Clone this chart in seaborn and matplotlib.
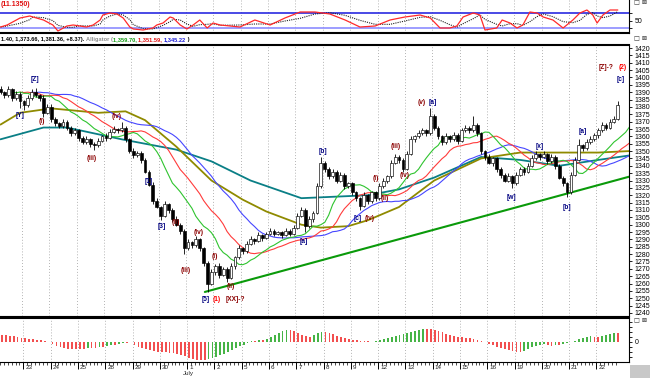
import numpy as np
import pandas as pd
import matplotlib
matplotlib.use("Agg")
import matplotlib.pyplot as plt
import matplotlib.transforms as mtransforms
from matplotlib.patches import Rectangle
import seaborn as sns

sns.set_theme(style="white")
plt.rcParams['font.family'] = ['Liberation Sans', 'DejaVu Sans']

# ---------------- data ----------------
FIRST_OPEN = 1392
CLOSE = [
    1390, 1388, 1392, 1386, 1389, 1384, 1381, 1386, 1390, 1388,
    1386, 1376, 1380, 1372, 1369, 1367, 1370, 1366, 1362, 1364,
    1359, 1356, 1358, 1355, 1354, 1357, 1360, 1359, 1363, 1365,
    1364, 1366, 1358, 1350, 1347, 1349, 1344, 1336, 1327, 1316,
    1312, 1306, 1314, 1310, 1304, 1300, 1296, 1284, 1288, 1286,
    1290, 1284, 1274, 1260, 1268, 1272, 1266, 1270, 1264, 1272,
    1278, 1284, 1282, 1287, 1290, 1289, 1293, 1291, 1294, 1296,
    1294, 1295, 1293, 1296, 1294, 1298, 1306, 1310, 1299, 1304,
    1308, 1326, 1342, 1338, 1333, 1336, 1330, 1334, 1326, 1328,
    1322, 1318, 1313, 1320, 1316, 1322, 1318, 1326, 1330, 1333,
    1342, 1346, 1344, 1338, 1348, 1358, 1360, 1362, 1364, 1362,
    1374, 1366, 1360, 1356, 1360, 1358, 1361, 1357, 1364, 1366,
    1364, 1368, 1362, 1350, 1346, 1342, 1345, 1338, 1334, 1330,
    1333, 1328, 1334, 1338, 1336, 1340, 1345, 1348, 1346, 1348,
    1343, 1346, 1340, 1332, 1328, 1322, 1334, 1344, 1354, 1352,
    1356, 1358, 1361, 1364, 1368, 1366, 1370, 1372, 1381,
]
UP_WICK = [
    2, 1, 2, 1, 2, 1, 1, 2, 2, 3,
    1, 2, 2, 2, 1, 1, 2, 1, 1, 2,
    1, 1, 2, 1, 1, 2, 1, 2, 2, 2,
    1, 4, 1, 1, 2, 1, 1, 1, 1, 2,
    2, 1, 2, 1, 1, 2, 1, 1, 2, 1,
    2, 1, 1, 1, 2, 1, 2, 1, 1, 2,
    1, 2, 1, 2, 2, 1, 2, 1, 1, 2,
    1, 1, 1, 2, 1, 2, 2, 2, 1, 2,
    1, 2, 4, 1, 1, 2, 1, 2, 1, 1,
    1, 1, 1, 2, 1, 1, 1, 2, 2, 1,
    2, 2, 1, 1, 2, 2, 1, 2, 2, 1,
    5, 1, 1, 1, 2, 1, 2, 1, 2, 2,
    1, 6, 1, 1, 1, 2, 1, 1, 1, 1,
    2, 1, 2, 1, 1, 2, 2, 2, 1, 2,
    1, 2, 1, 1, 1, 1, 2, 2, 4, 1,
    2, 2, 1, 2, 2, 1, 2, 2, 3,
]
DN_WICK = [
    1, 2, 1, 2, 1, 5, 3, 1, 1, 1,
    2, 3, 1, 2, 2, 1, 1, 2, 2, 1,
    2, 1, 1, 2, 3, 1, 1, 2, 1, 1,
    2, 1, 2, 1, 2, 1, 2, 1, 1, 2,
    1, 3, 1, 2, 2, 1, 2, 4, 1, 2,
    1, 2, 2, 6, 1, 2, 2, 1, 3, 1,
    2, 1, 2, 1, 1, 2, 1, 2, 1, 1,
    2, 1, 2, 1, 2, 1, 1, 1, 4, 1,
    2, 1, 1, 2, 2, 1, 2, 1, 2, 1,
    2, 2, 3, 1, 2, 1, 2, 1, 1, 2,
    1, 1, 2, 2, 1, 1, 2, 1, 1, 2,
    1, 2, 2, 2, 1, 2, 1, 2, 1, 1,
    2, 1, 2, 2, 2, 1, 2, 2, 2, 1,
    1, 3, 1, 1, 2, 1, 1, 1, 2, 1,
    2, 1, 2, 1, 2, 3, 1, 1, 1, 2,
    1, 1, 1, 2, 1, 2, 1, 1, 1,
]
MACD_HIST = [
    7, 7, 6, 6, 5, 4, 4, 3, 3, 2,
    2, 1, 0, -2, -4, -5, -6, -7, -7, -7,
    -7, -7, -6, -6, -6, -5, -5, -4, -3, -3,
    -2, -1, -1, 0, -3, -5, -6, -7, -8, -9,
    -10, -10, -10, -11, -11, -12, -13, -14, -16, -17,
    -18, -18, -18, -17, -16, -15, -13, -12, -10, -8,
    -6, -4, -3, -1, 1, 1, 2, 2, 3, 5,
    7, 9, 11, 12, 12, 11, 9, 7, 6, 5,
    7, 9, 10, 10, 9, 8, 6, 5, 4, 3,
    2, 2, 1, 1, 1, 0, 1, 2, 3, 4,
    5, 6, 7, 8, 9, 10, 11, 12, 13, 13,
    13, 12, 11, 10, 8, 7, 6, 5, 5, 4,
    4, 3, 2, 1, 0, -2, -3, -5, -6, -7,
    -8, -9, -10, -10, -9, -7, -5, -4, -3, -2,
    -3, -4, -3, -3, -2, -1, 0, 1, 3, 4,
    5, 6, 5, 5, 6, 7, 8, 9, 9,
]
STOCH_X = [0, 1.7, 5, 7.5, 8.3, 11, 13.4, 14.7, 17, 18.6, 20.3, 22, 23.7, 25.5, 26.2,
           28, 29.8, 31.4, 33.1, 34, 36.5, 39, 40, 41.6, 43.4, 44.2, 46, 47.7, 49.3, 51,
           52.9, 54.4, 56.2, 61.3, 65.1, 69, 72.8, 76.7, 80.5, 84.3, 88.2, 92, 95.9, 99.7,
           103.5, 107.4, 110, 112.5, 115, 116.8, 118.4, 121, 122.7, 124, 127, 128.4, 130.4,
           132.2, 133.7, 135.5, 137.3, 138.9, 141.4, 144, 146.5, 148.3, 150.1, 151.6, 152.7,
           154.2, 156, 158]
STOCH_K = [24, 32, 60, 68, 64, 52, 32, 8, 28, 32, 28, 24, 32, 52, 72,
           80, 76, 60, 24, 16, 12, 20, 32, 40, 64, 60, 32, 16, 32, 52,
           20, 40, 32, 24, 52, 32, 60, 84, 84, 76, 52, 24, 28, 52,
           64, 72, 60, 20, 20, 28, 64, 80, 72, 12, 20, 52, 40,
           20, 32, 84, 80, 64, 52, 20, 52, 80, 92, 72, 40,
           72, 92, 92]
OLIVE_X = [0, 5, 13, 25, 32, 37, 45, 54, 62, 68, 77, 82, 89, 94, 102, 111, 123, 133, 143, 153, 160.9]
OLIVE_Y = [1368, 1376, 1379, 1376, 1377, 1371, 1353, 1330, 1317, 1309, 1300, 1298, 1299, 1303,
           1312, 1330, 1345, 1349, 1349, 1349, 1350]
TEAL_X = [0, 11, 17, 31, 45, 54, 64, 77, 94, 102, 111, 123, 133, 143, 153, 160.9]
TEAL_Y = [1358, 1366, 1366, 1358, 1351, 1343, 1330, 1318, 1320, 1324, 1332, 1346, 1344, 1340, 1344, 1347]
TREND_X = [52.3, 160.9]
TREND_Y = [1254.3, 1332.6]
DAY_LABELS = ["23", "24", "25", "28", "29", "30", "1", "2", "5", "6", "7", "8",
              "9", "12", "13", "14", "15", "16", "19", "20", "21", "22"]
PRICE_TICKS = list(range(1240, 1421, 5))
WAVES = [
    ("[Y]", 5.0, 1374.5, "navy"), ("[Z]", 8.8, 1398.3, "navy"),
    ("(i)", 10.6, 1369.8, "darkred"), ("(iii)", 23.4, 1345.3, "darkred"),
    ("(iv)", 29.8, 1373.2, "darkred"), ("[1]", 37.8, 1329.0, "navy"),
    ("[3]", 41.3, 1299.1, "navy"), ("(ii)", 44.9, 1301.8, "darkred"),
    ("(iv)", 50.8, 1295.0, "darkred"), ("(iii)", 47.5, 1269.2, "darkred"),
    ("(i)", 54.9, 1278.7, "darkred"), ("(ii)", 59.0, 1258.3, "darkred"),
    ("[5]", 52.6, 1249.5, "navy"), ("(1)", 55.4, 1249.5, "red"),
    ("[XX]-?", 60.2, 1249.5, "darkred"), ("[a]", 77.7, 1288.9, "navy"),
    ("[b]", 82.5, 1350.0, "navy"), ("[c]", 91.5, 1304.5, "navy"),
    ("(iv)", 94.6, 1304.5, "darkred"), ("(i)", 96.1, 1331.7, "darkred"),
    ("(ii)", 98.4, 1318.1, "darkred"), ("(iii)", 101.2, 1353.4, "darkred"),
    ("(iv)", 103.5, 1333.7, "darkred"), ("(v)", 107.9, 1382.7, "darkred"),
    ("[a]", 110.7, 1383.3, "navy"), ("[w]", 130.9, 1318.8, "navy"),
    ("[x]", 138.1, 1352.8, "navy"), ("[b]", 145.0, 1312.0, "navy"),
    ("[a]", 149.1, 1363.0, "navy"), ("[Z]-?", 155.0, 1407.1, "darkred"),
    ("(2)", 159.3, 1407.1, "red"), ("[c]", 158.7, 1398.3, "navy"),
]

# ---------------- derived series ----------------
n = len(CLOSE)
bars = np.arange(n)
close = np.array(CLOSE, float)
open_ = np.concatenate([[FIRST_OPEN], close[:-1]])
high = np.maximum(open_, close) + np.array(UP_WICK)
low = np.minimum(open_, close) - np.array(DN_WICK)
s = pd.Series(close)
def smma(p):
    return s.ewm(alpha=1.0 / p, adjust=False).mean().to_numpy()
jaw, teeth, lips = smma(13), smma(8), smma(5)
stoch_d = pd.Series(STOCH_K).rolling(3, min_periods=1).mean().to_numpy()

# ---------------- layout ----------------
W, H = 650, 378
fig = plt.figure(figsize=(6.5, 3.78), dpi=100)
fig.patch.set_facecolor("white")

def box(x0, y0, x1, y1):
    return [x0 / W, 1 - y1 / H, (x1 - x0) / W, (y1 - y0) / H]

RIGHT = 629
ax_s = fig.add_axes(box(0, 0, RIGHT, 33))
ax_m = fig.add_axes(box(0, 45, RIGHT, 316))
ax_h = fig.add_axes(box(0, 318, RIGHT, 362))
XL = (-0.13, (RIGHT - 0.5) / 3.907)
day_ticks = [5.5 + 7 * k for k in range(len(DAY_LABELS))]

for ax in (ax_s, ax_m, ax_h):
    ax.set_facecolor("white")
    ax.set_xlim(*XL)
    for t in day_ticks:
        ax.axvline(t, color="#9a9a9a", lw=0.6, ls=(0, (1, 2.5)), zorder=0)
    ax.spines["left"].set_visible(False)
    for sp in ("top", "right", "bottom"):
        ax.spines[sp].set_color("black")
        ax.spines[sp].set_linewidth(0.8)
    ax.yaxis.tick_right()
    ax.tick_params(axis="y", which="both", right=True, left=False, direction="out",
                   length=2.5, width=0.6, pad=1.5, labelsize=5, colors="black")

# ---- stochastic panel ----
ax_s.set_ylim(0, 132)
ax_s.axhline(80, color="#2a2ae0", lw=1.2, zorder=1)
ax_s.axhline(20, color="#8c8cff", lw=1.2, zorder=1)
sns.lineplot(x=STOCH_X, y=stoch_d, ax=ax_s, color="#222222", lw=0.8, ls=(0, (1, 1)),
             estimator=None, sort=False, zorder=2)
sns.lineplot(x=STOCH_X, y=STOCH_K, ax=ax_s, color="#ff2a2a", lw=0.9,
             estimator=None, sort=False, zorder=3)
ax_s.set_yticks([20, 50, 80])
ax_s.set_yticklabels(["", "50", ""])
ax_s.set_xticks([])
ax_s.spines["top"].set_visible(False)
ax_s.spines["bottom"].set_linewidth(1.5)
ax_s.set_xlabel("")
ax_s.set_ylabel("")

# ---- main price panel ----
ax_m.set_ylim(1237.96, 1422.07)
sns.lineplot(x=TEAL_X, y=TEAL_Y, ax=ax_m, color="#0a7f86", lw=1.3, estimator=None, sort=False, zorder=1)
sns.lineplot(x=OLIVE_X, y=OLIVE_Y, ax=ax_m, color="#8f8a00", lw=1.3, estimator=None, sort=False, zorder=1)
sns.lineplot(x=bars + 8, y=jaw, ax=ax_m, color="#4646ff", lw=0.8, estimator=None, sort=False, zorder=2)
sns.lineplot(x=bars + 5, y=teeth, ax=ax_m, color="#ff3b3b", lw=0.8, estimator=None, sort=False, zorder=2)
sns.lineplot(x=bars + 3, y=lips, ax=ax_m, color="#2fc42f", lw=0.8, estimator=None, sort=False, zorder=2)
sns.lineplot(x=TREND_X, y=TREND_Y, ax=ax_m, color="#0a9a0a", lw=1.5, estimator=None, sort=False, zorder=2)

ax_m.vlines(bars, low, high, color="black", lw=0.6, zorder=3)
up = close >= open_
body_h = np.maximum(np.abs(close - open_), 0.4)
ax_m.bar(bars, body_h, bottom=np.minimum(open_, close), width=0.72,
         color=np.where(up, "white", "black"), edgecolor="black", linewidth=0.45, zorder=4)

for txt, bx, py, col in WAVES:
    ax_m.text(bx, py, txt, color=col, fontsize=4.8, fontweight="bold",
              ha="center", va="center", zorder=5)

ax_m.set_yticks(PRICE_TICKS)
ax_m.set_yticklabels([str(v) for v in PRICE_TICKS])
ax_m.set_xticks([])
ax_m.spines["top"].set_linewidth(1.5)
ax_m.set_xlabel("")
ax_m.set_ylabel("")

# ---- histogram panel ----
ax_h.set_ylim(-20, 24)
hist = np.array(MACD_HIST, float)
rising = np.concatenate([[False], hist[1:] > hist[:-1]])
cols = np.where(rising, "#46b446", "#f24f4f")
ax_h.bar(bars, hist, width=0.45, color=cols, linewidth=0, zorder=2)
ax_h.set_yticks([-15, -10, -5, 0, 5, 10, 15, 20])
ax_h.set_yticklabels(["", "", "", "0", "", "", "", ""])
ax_h.spines["top"].set_linewidth(1.5)
ax_h.set_xticks(day_ticks)
ax_h.set_xticklabels([])
ax_h.set_xticks(bars - 0.5, minor=True)
ax_h.tick_params(axis="x", which="major", bottom=True, direction="out", length=5, width=0.7, colors="black")
ax_h.tick_params(axis="x", which="minor", bottom=True, direction="out", length=2, width=0.5, colors="black")
trans = mtransforms.blended_transform_factory(ax_h.transData, ax_h.transAxes)
for t, lab in zip(day_ticks, DAY_LABELS):
    ax_h.text(t + 0.5, -0.07, lab, transform=trans, fontsize=4.5, ha="left", va="top", color="#222222")
ax_h.text(day_ticks[6] + 0.3, -0.27, "July", transform=trans, fontsize=4.5, ha="center", va="center",
          color="#222222")
ax_h.set_xlabel("")
ax_h.set_ylabel("")

# ---- header texts ----
fig.text(1 / W, 1 - 0.5 / H, "(11.1350)", color="#e01010", fontsize=5, fontweight="bold",
         ha="left", va="top")
fig.canvas.draw()
renderer = fig.canvas.get_renderer()
parts = [("1.40, 1,373.66, 1,381.36, +8.37). ", "black"), ("Alligator (", "#8c8c8c"),
         ("1,359.70, ", "#139a13"), ("1,351.59, ", "#e01010"), ("1,345.22", "#1c1cd8"), (" )", "black")]
xp = 1.0
for txt, col in parts:
    tt = fig.text(xp / W, 1 - 39.5 / H, txt, color=col, fontsize=4.1, fontweight="bold",
                  ha="left", va="center")
    bb = tt.get_window_extent(renderer=renderer)
    xp = bb.x1

for yy in (2.5, 38.5, 321):
    fig.text(634 / W, 1 - yy / H, "\u25a1 \u22a0", fontsize=4.5, color="#333333",
             ha="left", va="center", family="DejaVu Sans")

fig.add_artist(Rectangle((630 / W, 0), 20 / W, 13 / H, transform=fig.transFigure,
                         facecolor="#c8c8c8", edgecolor="none"))

fig.savefig("out.png", dpi=100, facecolor="white")
